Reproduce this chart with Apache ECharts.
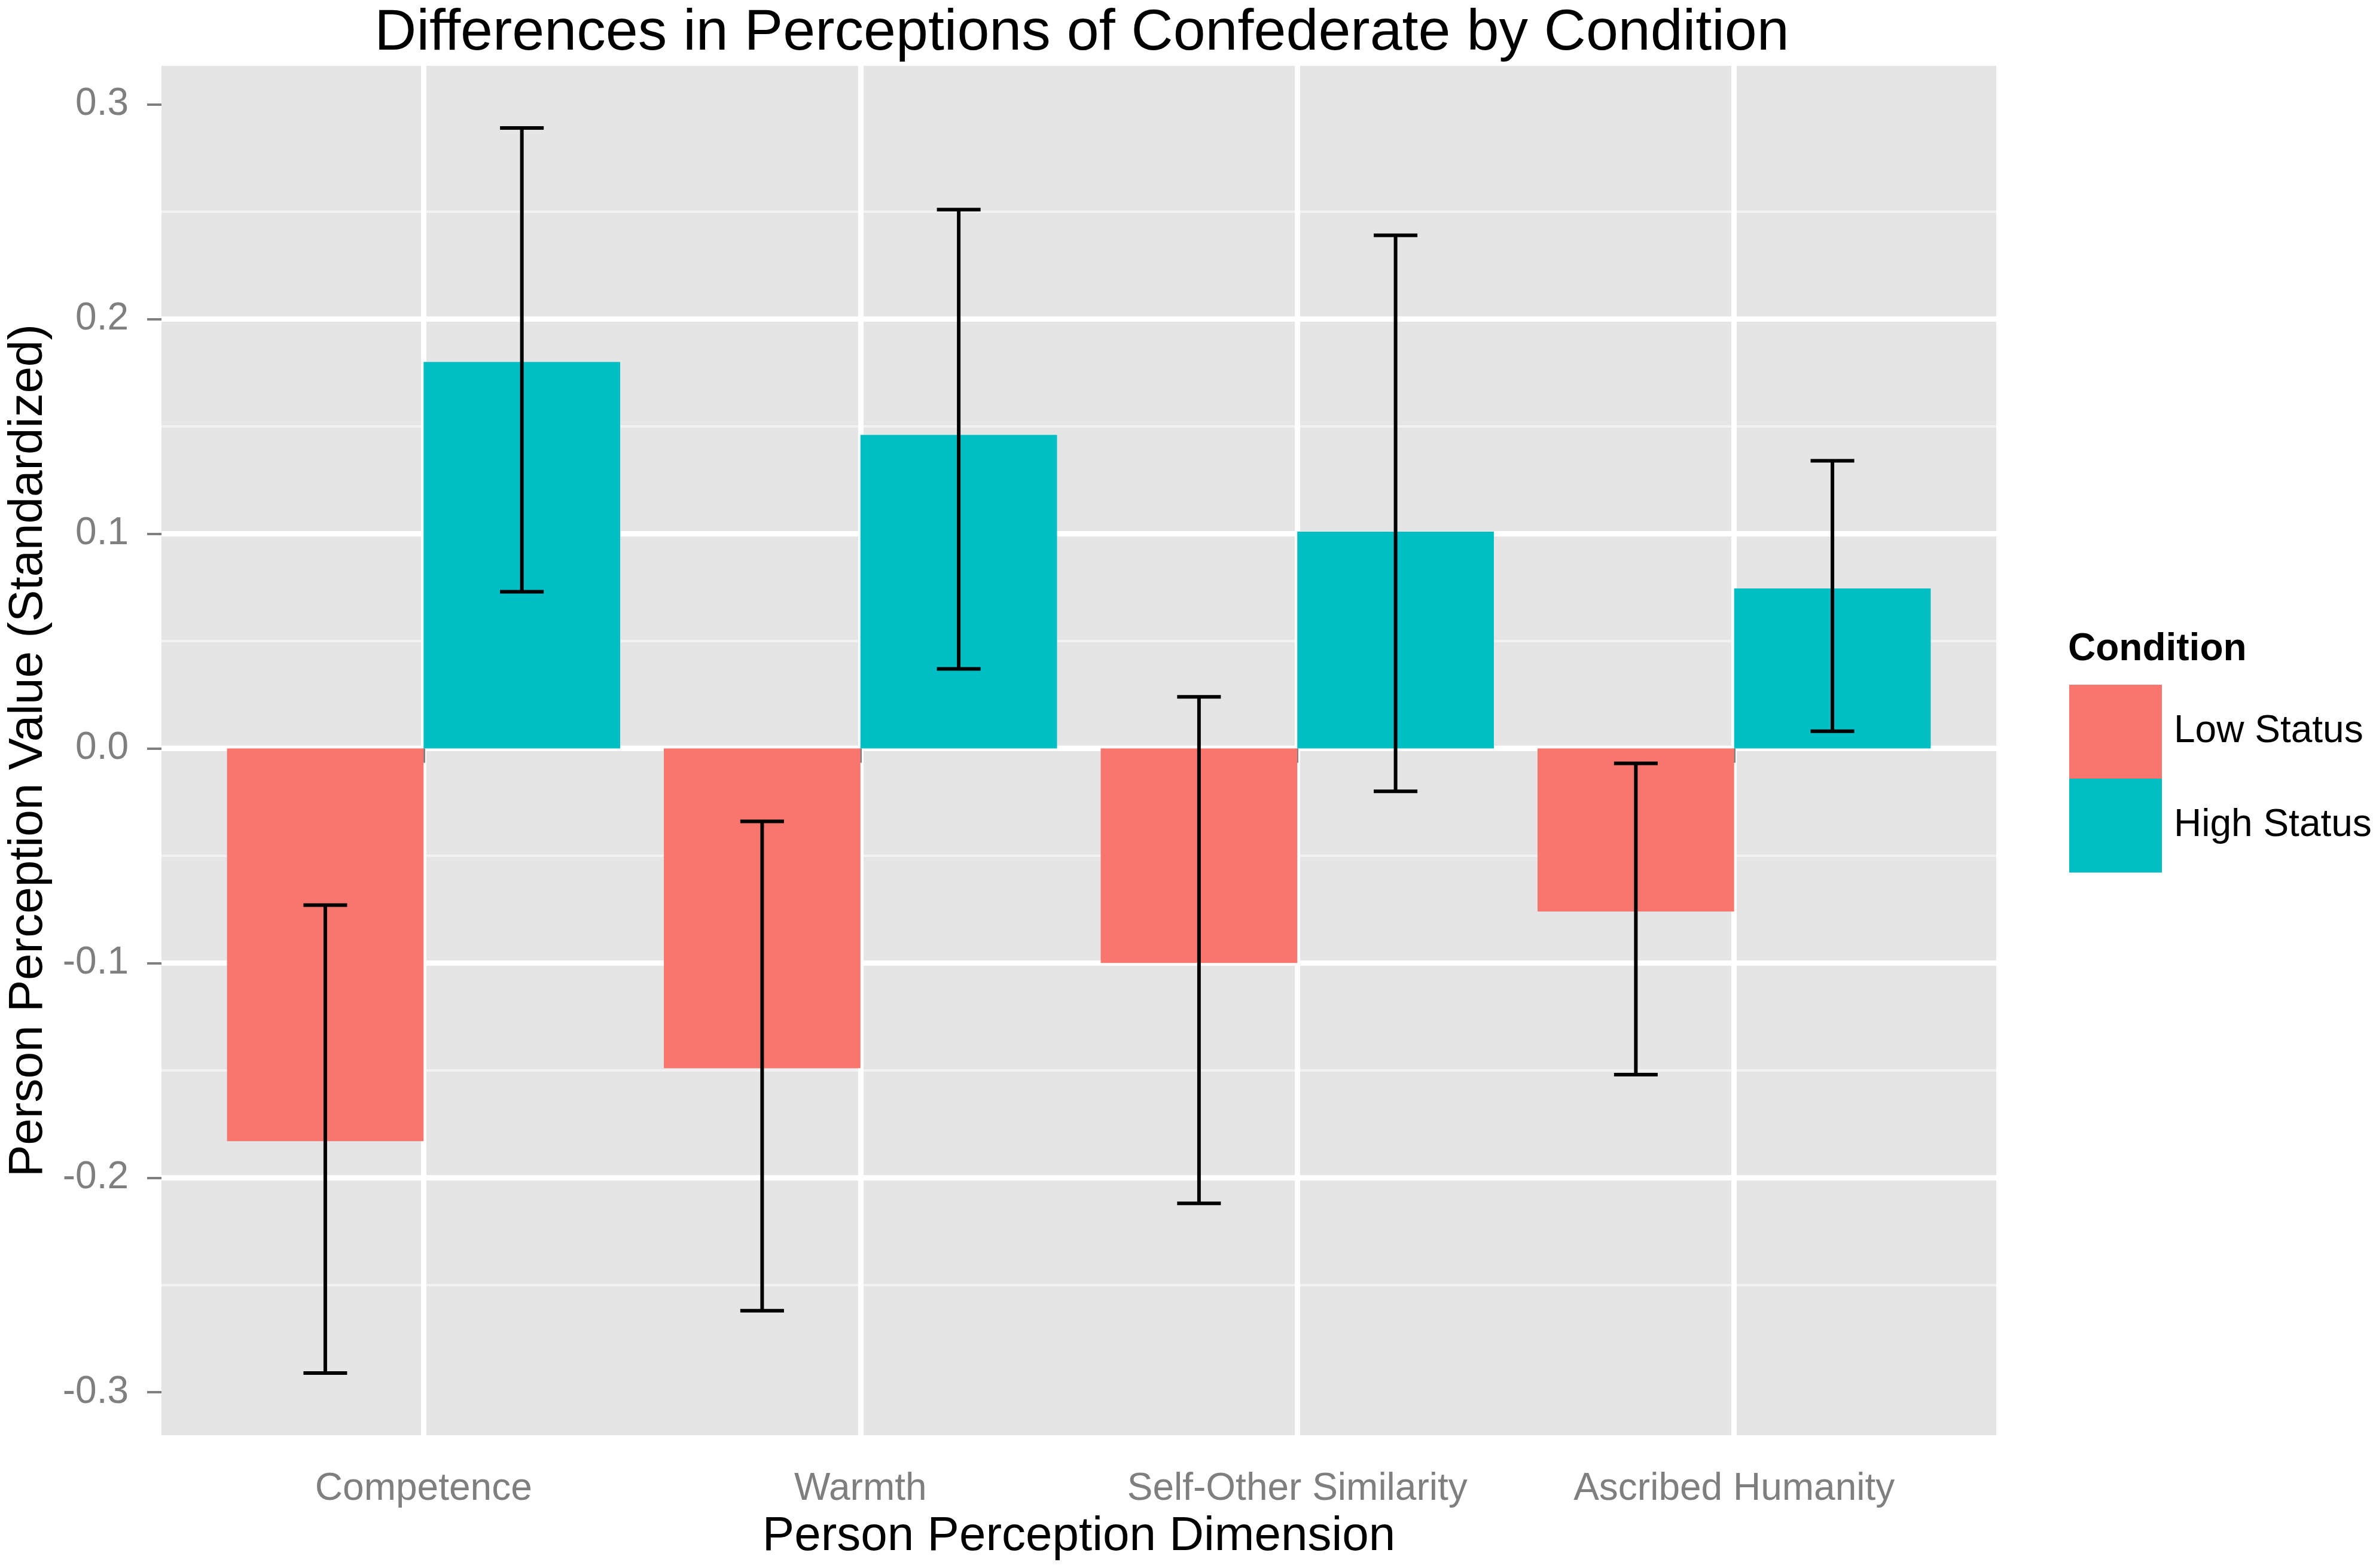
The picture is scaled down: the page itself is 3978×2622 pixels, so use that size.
<!DOCTYPE html>
<html lang="en">
<head>
<meta charset="UTF-8">
<title>Differences in Perceptions of Confederate by Condition</title>
<script src="https://cdn.jsdelivr.net/npm/echarts@6/dist/echarts.min.js"></script>
<style>
    html, body { margin: 0; padding: 0; background: #fff; }
    #main { width: 3978px; height: 2622px; }
</style>
</head>
<body>
<div id="main"></div>
<script>
    // values
    let dimensions = ['Competence', 'Warmth', 'Self-Other Similarity', 'Ascribed Humanity'];
    let conditions = ['Low Status', 'High Status'];
    let lowMean = [-0.183, -0.149, -0.100, -0.076];
    let lowLower = [-0.291, -0.262, -0.212, -0.152];
    let lowUpper = [-0.073, -0.034, 0.024, -0.007];
    let highMean = [0.180, 0.146, 0.101, 0.0745];
    let highLower = [0.073, 0.037, -0.020, 0.008];
    let highUpper = [0.289, 0.251, 0.239, 0.134];
    let yTicks = [-0.3, -0.2, -0.1, 0, 0.1, 0.2, 0.3];

    const font = "'Liberation Sans', Arial, sans-serif";
    const colors = ['#F8766D', '#00BFC4'];
    const barW = 0.45;   // dodged bar width (0.9 / 2)
    const capW = 0.1;    // error bar cap width

    // ggplot style expansion of the y range (5%)
    let all = lowLower.concat(highUpper, lowUpper, highLower);
    let lo = Math.min.apply(null, all), hi = Math.max.apply(null, all);
    let pad = (hi - lo) * 0.05;
    let yMin = lo - pad, yMax = hi + pad;

    let chart = echarts.init(document.getElementById('main'));

    function barRender(offset) {
        return function (params, api) {
            let x = api.value(0), y = api.value(1);
            let a = api.coord([x + offset - barW / 2, y]);
            let b = api.coord([x + offset + barW / 2, 0]);
            return {
                type: 'rect',
                shape: { x: a[0], y: Math.min(a[1], b[1]), width: b[0] - a[0], height: Math.abs(b[1] - a[1]) },
                style: api.style()
            };
        };
    }

    function errRender(offset) {
        return function (params, api) {
            let x = api.value(0) + offset;
            let p1 = api.coord([x, api.value(1)]);
            let p2 = api.coord([x, api.value(2)]);
            let half = api.size([capW / 2, 0])[0];
            let st = { stroke: '#000', lineWidth: 6 };
            return {
                type: 'group',
                children: [
                    { type: 'line', shape: { x1: p1[0], y1: p1[1], x2: p2[0], y2: p2[1] }, style: st },
                    { type: 'line', shape: { x1: p1[0] - half, y1: p1[1], x2: p1[0] + half, y2: p1[1] }, style: st },
                    { type: 'line', shape: { x1: p2[0] - half, y1: p2[1], x2: p2[0] + half, y2: p2[1] }, style: st }
                ]
            };
        };
    }

    let xPos = dimensions.map((d, i) => i + 1);

    let option = {
        backgroundColor: '#fff',
        animation: false,
        title: [
            {
                text: 'Differences in Perceptions of Confederate by Condition',
                left: 1804,
                top: 3,
                textAlign: 'center',
                textStyle: { fontFamily: font, fontSize: 97, fontWeight: 'normal', color: '#000' }
            },
            {
                text: 'Condition',
                left: 3458,
                top: 1054,
                padding: 0,
                textStyle: { fontFamily: font, fontSize: 64, fontWeight: 'bold', color: '#000' }
            }
        ],
        legend: {
            data: conditions,
            orient: 'vertical',
            left: 3460,
            top: 1145,
            padding: 0,
            itemGap: 0,
            itemWidth: 155,
            itemHeight: 157,
            icon: 'rect',
            textStyle: { fontFamily: font, fontSize: 64, color: '#000', padding: [0, 0, 0, 15] }
        },
        grid: {
            left: 270, right: 640, top: 110, bottom: 222,
            show: true, backgroundColor: '#E5E5E5', borderWidth: 0,
            containLabel: false
        },
        xAxis: {
            type: 'value',
            min: 0.4,
            max: 4.6,
            splitNumber: 4,
            name: 'Person Perception Dimension',
            nameLocation: 'middle',
            nameGap: 130,
            nameTextStyle: { fontFamily: font, fontSize: 80, color: '#000' },
            axisLine: { show: false },
            axisTick: { show: true, length: 24, customValues: xPos, lineStyle: { color: '#7F7F7F', width: 4 } },
            axisLabel: {
                customValues: xPos,
                margin: 58,
                fontFamily: font, fontSize: 64, color: '#7F7F7F',
                formatter: v => dimensions[Math.round(v) - 1] || ''
            },
            splitLine: { show: true, lineStyle: { color: '#fff', width: 9 } }
        },
        yAxis: [
            {
                type: 'value',
                min: yMin,
                max: yMax,
                splitNumber: 6,
                name: 'Person Perception Value (Standardized)',
                nameLocation: 'middle',
                nameGap: 182,
                nameTextStyle: { fontFamily: font, fontSize: 80, color: '#000' },
                axisLine: { show: false },
                axisTick: { show: true, length: 24, customValues: yTicks, lineStyle: { color: '#7F7F7F', width: 4 } },
                axisLabel: {
                    customValues: yTicks,
                    margin: 55,
                    fontFamily: font, fontSize: 64, color: '#7F7F7F',
                    formatter: v => v.toFixed(1)
                },
                splitLine: { show: true, showMinLine: false, showMaxLine: false, lineStyle: { color: '#fff', width: 9 } }
            },
            {
                // shifted copy of the y scale, only for the minor grid lines
                type: 'value',
                min: yMin + 0.05,
                max: yMax + 0.05,
                splitNumber: 6,
                axisLine: { show: false },
                axisTick: { show: false },
                axisLabel: { show: false },
                splitLine: { show: true, showMinLine: false, showMaxLine: false, lineStyle: { color: '#F2F2F2', width: 4 } }
            }
        ],
        series: [
            {
                name: 'Low Status',
                type: 'custom',
                itemStyle: { color: colors[0] },
                renderItem: barRender(-barW / 2),
                data: xPos.map((x, i) => [x, lowMean[i]]),
                z: 2
            },
            {
                name: 'High Status',
                type: 'custom',
                itemStyle: { color: colors[1] },
                renderItem: barRender(barW / 2),
                data: xPos.map((x, i) => [x, highMean[i]]),
                z: 2
            },
            {
                name: 'low-err',
                type: 'custom',
                renderItem: errRender(-barW / 2),
                encode: { x: 0, y: [1, 2] },
                data: xPos.map((x, i) => [x, lowLower[i], lowUpper[i]]),
                z: 3
            },
            {
                name: 'high-err',
                type: 'custom',
                renderItem: errRender(barW / 2),
                encode: { x: 0, y: [1, 2] },
                data: xPos.map((x, i) => [x, highLower[i], highUpper[i]]),
                z: 3
            }
        ]
    };

    chart.setOption(option);
</script>
</body>
</html>
